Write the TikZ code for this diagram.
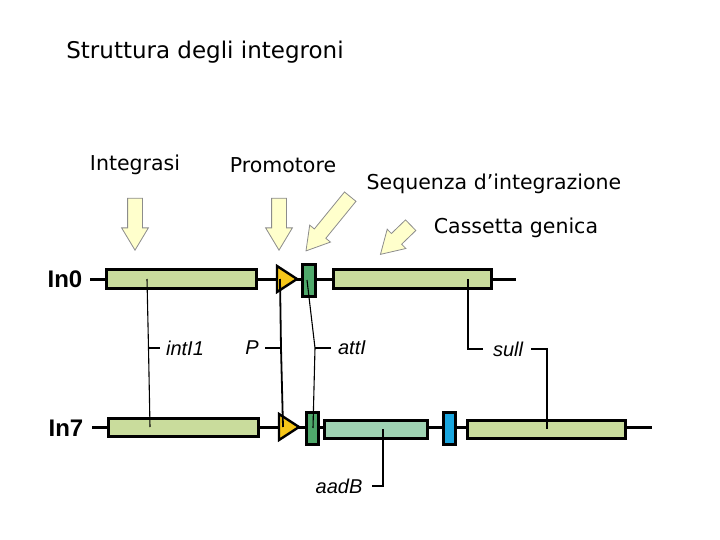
\documentclass[tikz,border=0pt]{standalone}
\usepackage{fontspec}
\setmainfont{DejaVu Sans}
\newfontfamily\genefont{Liberation Sans}
\usetikzlibrary{shapes.arrows, positioning}

\definecolor{intgreen}{HTML}{C9DC9C}
\definecolor{attgreen}{HTML}{4FA96B}
\definecolor{aadgreen}{HTML}{9FD3B3}
\definecolor{cassblue}{HTML}{1AA6DF}
\definecolor{promyellow}{HTML}{F6C619}
\definecolor{pointfill}{HTML}{FFFFCC}

\begin{document}
\begin{tikzpicture}[
    x=1pt, y=-1pt,
    caption/.style={font=\fontsize{20.5}{22}\selectfont, inner sep=0},
    pointer/.style={single arrow, draw=black!45, fill=pointfill, line width=0.8pt, inner sep=7pt, single arrow head extend=6pt, single arrow tip angle=62},
    backbone/.style={line width=3pt},
    gene/.style={draw=black, line width=3pt, inner sep=0, minimum height=19},
    promoter/.style={draw=black, line width=2.4pt, fill=promyellow, line join=miter},
    rowlabel/.style={font=\genefont\bfseries\fontsize{24}{26}\selectfont, inner sep=0},
    genelabel/.style={font=\genefont\itshape\fontsize{20}{22}\selectfont, inner sep=0},
    leader/.style={line width=1.1pt}
]
    \useasboundingbox (0,0) rectangle (720,540);

    \node[caption, font=\fontsize{23}{25}\selectfont] (title) at (205,52) {Struttura degli integroni};
    \node[caption] (integrasi) at (135,165) {Integrasi};
    \node[caption] (promotore) at (283,165) {Promotore};
    \node[caption] (sequenza) at (494,184) {Sequenza d’integrazione};
    \node[caption] (cassetta) at (516,228) {Cassetta genica};

    \node[pointer, minimum height=52, rotate=-90] (ptrint) at (135,218) {};
    \node[pointer, minimum height=52, rotate=-90] (ptrprom) at (279,218) {};
    \node[pointer, minimum height=70, rotate=230.8] (ptrseq) at (332,219) {};
    \node[pointer, minimum height=42, rotate=224] (ptrcass) at (400,235.5) {};

    % In0
    \node[rowlabel] (in0) at (65,279) {In0};
    \coordinate (bb0start) at (90,279);
    \coordinate (bb0end) at (516,279);
    \draw[backbone] (bb0start) -- (bb0end);
    \node[gene, fill=intgreen, minimum width=150] (int0) at (181.5,279) {};
    \coordinate (prom0) at (277,279);
    \draw[promoter] (prom0) ++(0,-13) -- ++(20,13) -- ++(-20,13) -- cycle;
    \node[gene, fill=attgreen, minimum width=13, minimum height=32] (att0) at (308.5,280) {};
    \node[gene, fill=intgreen, minimum width=158] (sul0) at (412,279) {};

    % In7
    \node[rowlabel] (in7) at (66,428) {In7};
    \coordinate (bb7start) at (92,427);
    \coordinate (bb7end) at (652,427);
    \draw[backbone] (bb7start) -- (bb7end);
    \node[gene, fill=intgreen, minimum width=150, minimum height=18] (int7) at (183.5,427) {};
    \coordinate (prom7) at (279,427);
    \draw[promoter] (prom7) ++(0,-13) -- ++(20,13) -- ++(-20,13) -- cycle;
    \node[gene, fill=attgreen, minimum width=12, minimum height=32] (att7) at (312,428) {};
    \node[gene, fill=aadgreen, minimum width=103, minimum height=18] (aad) at (375.5,429) {};
    \node[gene, fill=cassblue, minimum width=12, minimum height=32] (blue7) at (449,428) {};
    \node[gene, fill=intgreen, minimum width=158, minimum height=18] (sul7) at (546,429) {};

    % leaders
    \node[genelabel] (lint) at (185,348) {intI1};
    \node[genelabel] (lp) at (252,348) {P};
    \node[genelabel] (latt) at (352,348) {attI};
    \node[genelabel] (lsul) at (508,349) {sull};
    \node[genelabel] (laad) at (339,486) {aadB};

    \coordinate (intmid) at (148.5,348);
    \draw[leader] ([xshift=-34.5]int0.center) -- (intmid) -- ([xshift=-33.5]int7.center);
    \draw[leader] (intmid) -- ([xshift=-6]lint.west);

    \coordinate (pmid) at (281,348);
    \draw[leader, line width=1.8pt] ([xshift=3]prom0) -- (pmid) -- ([xshift=4]prom7);
    \draw[leader] (pmid) -- ([xshift=6]lp.east);

    \coordinate (attmid) at (315,348);
    \draw[leader] ([xshift=-1.5]att0.center) -- (attmid) -- ([xshift=1]att7.center);
    \draw[leader] (attmid) -- ([xshift=-7]latt.west);

    \draw[leader] ([xshift=56]sul0.center) |- ([xshift=-10]lsul.west);
    \draw[leader] ([xshift=8]lsul.east) -| ([xshift=1]sul7.center);

    \draw[leader] ([xshift=7.5]aad.center) |- ([xshift=9]laad.east);
\end{tikzpicture}
\end{document}
